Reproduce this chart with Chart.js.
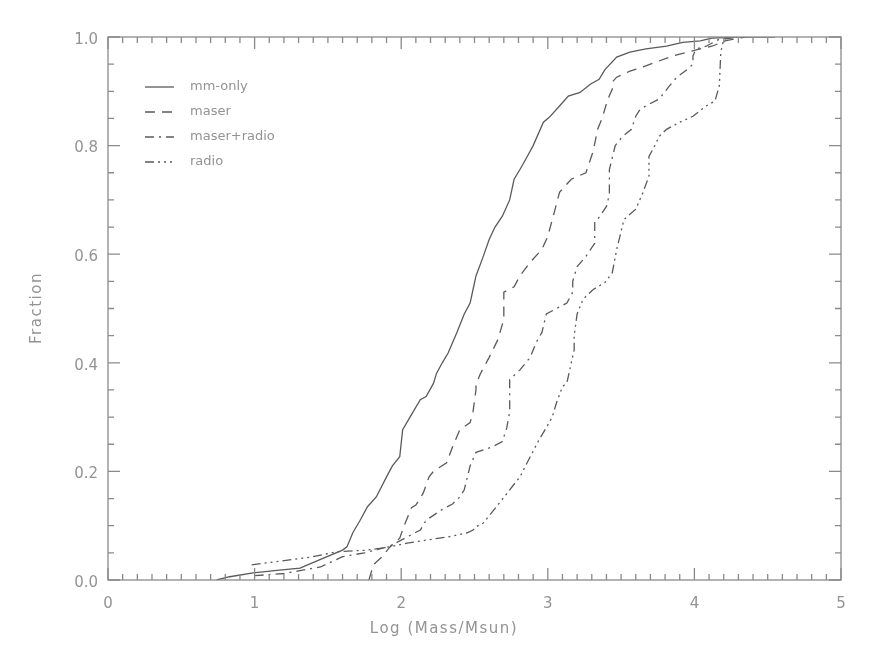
<!DOCTYPE html>
<html>
<head>
<meta charset="utf-8">
<script src="https://cdn.jsdelivr.net/npm/chart.js@4"></script>
<style>
  html, body { margin: 0; padding: 0; background: #fff; }
  #wrap { width: 872px; height: 654px; }
</style>
</head>
<body>
<div id="wrap"><canvas id="cdfChart" width="872" height="654"></canvas></div>
<script>
// cumulative mass distributions
const mmOnlyX = [0.74, 0.83, 0.99, 1.17, 1.31, 1.45, 1.60, 1.63, 1.67, 1.72, 1.77, 1.83, 1.90, 1.94, 1.99, 2.01, 2.06, 2.13, 2.17, 2.22, 2.24, 2.28, 2.32, 2.38, 2.43, 2.47, 2.49, 2.51, 2.56, 2.60, 2.64, 2.69, 2.74, 2.77, 2.81, 2.86, 2.90, 2.97, 3.01, 3.08, 3.14, 3.22, 3.29, 3.35, 3.39, 3.47, 3.56, 3.67, 3.81, 3.92, 4.04, 4.12, 4.30, 4.55];
const mmOnlyY = [0.0, 0.006, 0.013, 0.018, 0.022, 0.038, 0.055, 0.061, 0.087, 0.11, 0.135, 0.153, 0.19, 0.21, 0.227, 0.277, 0.30, 0.332, 0.338, 0.362, 0.38, 0.40, 0.418, 0.456, 0.49, 0.51, 0.535, 0.56, 0.596, 0.627, 0.65, 0.67, 0.70, 0.738, 0.756, 0.78, 0.80, 0.843, 0.852, 0.873, 0.891, 0.898, 0.913, 0.922, 0.94, 0.963, 0.972, 0.978, 0.983, 0.99, 0.993, 0.998, 1.0, 1.0];

const maserX = [1.78, 1.81, 1.87, 1.92, 1.99, 2.02, 2.07, 2.10, 2.15, 2.19, 2.22, 2.31, 2.35, 2.40, 2.47, 2.49, 2.51, 2.51, 2.54, 2.60, 2.66, 2.70, 2.70, 2.77, 2.81, 2.88, 2.96, 3.00, 3.05, 3.08, 3.16, 3.26, 3.31, 3.34, 3.37, 3.41, 3.44, 3.44, 3.47, 3.56, 3.65, 3.74, 3.85, 3.95, 4.04, 4.12, 4.21, 4.35];
const maserY = [0.0, 0.028, 0.043, 0.06, 0.077, 0.10, 0.133, 0.138, 0.16, 0.19, 0.20, 0.216, 0.245, 0.277, 0.29, 0.31, 0.35, 0.36, 0.38, 0.41, 0.443, 0.48, 0.53, 0.54, 0.56, 0.585, 0.609, 0.633, 0.683, 0.714, 0.738, 0.75, 0.79, 0.83, 0.85, 0.886, 0.904, 0.917, 0.926, 0.937, 0.945, 0.954, 0.965, 0.972, 0.978, 0.983, 0.993, 1.0];

const maserRadioX = [1.00, 1.20, 1.45, 1.60, 1.75, 1.92, 2.13, 2.17, 2.28, 2.35, 2.40, 2.43, 2.47, 2.51, 2.62, 2.69, 2.72, 2.74, 2.74, 2.81, 2.88, 2.92, 2.96, 2.99, 3.06, 3.13, 3.17, 3.17, 3.20, 3.26, 3.32, 3.32, 3.34, 3.40, 3.42, 3.42, 3.46, 3.51, 3.57, 3.60, 3.63, 3.69, 3.76, 3.83, 3.88, 3.95, 3.99, 3.99, 4.01, 4.08, 4.17, 4.26];
const maserRadioY = [0.008, 0.012, 0.024, 0.043, 0.05, 0.062, 0.092, 0.11, 0.13, 0.14, 0.153, 0.166, 0.21, 0.235, 0.245, 0.255, 0.28, 0.31, 0.369, 0.387, 0.41, 0.437, 0.456, 0.49, 0.50, 0.51, 0.53, 0.55, 0.577, 0.596, 0.62, 0.66, 0.664, 0.688, 0.71, 0.756, 0.80, 0.817, 0.83, 0.854, 0.867, 0.876, 0.886, 0.91, 0.926, 0.94, 0.95, 0.965, 0.978, 0.983, 0.996, 1.0];

const radioX = [0.98, 1.38, 1.56, 1.77, 1.92, 2.04, 2.33, 2.45, 2.49, 2.51, 2.56, 2.65, 2.74, 2.81, 2.88, 2.94, 3.01, 3.03, 3.06, 3.10, 3.13, 3.15, 3.16, 3.18, 3.18, 3.20, 3.24, 3.31, 3.39, 3.44, 3.47, 3.52, 3.60, 3.65, 3.69, 3.69, 3.73, 3.76, 3.81, 3.90, 3.99, 4.08, 4.14, 4.17, 4.18, 4.20, 4.30];
const radioY = [0.028, 0.042, 0.052, 0.055, 0.061, 0.068, 0.08, 0.087, 0.092, 0.098, 0.105, 0.135, 0.166, 0.19, 0.227, 0.258, 0.29, 0.30, 0.327, 0.356, 0.363, 0.387, 0.40, 0.424, 0.45, 0.49, 0.517, 0.535, 0.548, 0.566, 0.609, 0.664, 0.683, 0.714, 0.744, 0.78, 0.80, 0.817, 0.83, 0.843, 0.854, 0.873, 0.882, 0.91, 0.972, 0.996, 1.0];

const seriesLabels = ['mm-only', 'maser', 'maser+radio', 'radio'];
const xTickLabels = ['0', '1', '2', '3', '4', '5'];
const xTitle = 'Log (Mass/Msun)';
const yTitle = 'Fraction';

const lineColor = '#5a5a5a';
const textColor = '#939393';
const fontFamily = 'DejaVu Sans';

function toPoints(xs, ys) {
    return xs.map((x, i) => ({ x: x, y: ys[i] }));
}

// IDL style box with inward major/minor ticks on all four sides
const frameTicks = {
    id: 'frameTicks',
    afterDatasetsDraw(chart) {
        const { ctx, chartArea: a, scales } = chart;
        ctx.save();
        ctx.strokeStyle = '#8a8a8a';
        ctx.lineWidth = 1.3;
        ctx.strokeRect(a.left, a.top, a.right - a.left, a.bottom - a.top);
        ctx.beginPath();
        for (let i = 0; i <= 50; i++) {
            const px = scales.x.getPixelForValue(i / 10);
            const len = i % 10 === 0 ? 12 : 6;
            ctx.moveTo(px, a.bottom); ctx.lineTo(px, a.bottom - len);
            ctx.moveTo(px, a.top); ctx.lineTo(px, a.top + len);
        }
        for (let i = 0; i <= 20; i++) {
            const py = scales.y.getPixelForValue(i / 20);
            const len = i % 4 === 0 ? 12 : 6;
            ctx.moveTo(a.left, py); ctx.lineTo(a.left + len, py);
            ctx.moveTo(a.right, py); ctx.lineTo(a.right - len, py);
        }
        ctx.stroke();

        // axis titles, wide spacing like the IDL vector font
        ctx.fillStyle = textColor;
        ctx.font = '15px "' + fontFamily + '"';
        ctx.textAlign = 'center';
        ctx.textBaseline = 'middle';
        ctx.letterSpacing = '1.5px';
        ctx.fillText(xTitle, 444, 629);
        ctx.translate(37, 308);
        ctx.rotate(-Math.PI / 2);
        ctx.fillText(yTitle, 0, 0);
        ctx.restore();
    }
};

// legend drawn inside the plot, top left
const insideLegend = {
    id: 'insideLegend',
    afterDatasetsDraw(chart) {
        const { ctx } = chart;
        ctx.save();
        ctx.font = '13px "' + fontFamily + '"';
        ctx.textBaseline = 'middle';
        chart.data.datasets.forEach((ds, i) => {
            const y = 87 + i * 25;
            ctx.strokeStyle = lineColor;
            ctx.lineWidth = 1.3;
            ctx.setLineDash(ds.borderDash || []);
            ctx.beginPath();
            ctx.moveTo(145, y);
            ctx.lineTo(174, y);
            ctx.stroke();
            ctx.setLineDash([]);
            ctx.fillStyle = textColor;
            ctx.fillText(ds.label, 190, y);
        });
        ctx.restore();
    }
};

const ctx = document.getElementById('cdfChart').getContext('2d');
const cdfChart = new Chart(ctx, {
    type: 'line',
    data: {
        datasets: [
            { label: seriesLabels[0], data: toPoints(mmOnlyX, mmOnlyY), borderDash: [] },
            { label: seriesLabels[1], data: toPoints(maserX, maserY), borderDash: [10, 7] },
            { label: seriesLabels[2], data: toPoints(maserRadioX, maserRadioY), borderDash: [9, 5, 2, 5] },
            { label: seriesLabels[3], data: toPoints(radioX, radioY), borderDash: [9, 4, 2, 4, 2, 4, 2, 4] }
        ].map(ds => Object.assign(ds, {
            borderColor: lineColor,
            borderWidth: 1.3,
            pointRadius: 0,
            tension: 0,
            fill: false
        }))
    },
    options: {
        responsive: false,
        animation: false,
        layout: { padding: { top: 37, right: 31, left: 0, bottom: 0 } },
        plugins: {
            legend: { display: false },
            tooltip: { enabled: false }
        },
        scales: {
            x: {
                type: 'linear',
                min: 0,
                max: 5,
                grid: { display: false, drawTicks: false },
                border: { display: false },
                ticks: {
                    stepSize: 1,
                    padding: 15,
                    color: textColor,
                    font: { family: fontFamily, size: 15 },
                    callback: (v) => xTickLabels[v]
                },
                afterFit: (scale) => { scale.height = 74; }
            },
            y: {
                type: 'linear',
                min: 0,
                max: 1,
                grid: { display: false, drawTicks: false },
                border: { display: false },
                ticks: {
                    stepSize: 0.2,
                    padding: 10,
                    labelOffset: 3,
                    color: textColor,
                    font: { family: fontFamily, size: 15 },
                    callback: (v) => v.toFixed(1)
                },
                afterFit: (scale) => { scale.width = 108; }
            }
        }
    },
    plugins: [frameTicks, insideLegend]
});
</script>
</body>
</html>
